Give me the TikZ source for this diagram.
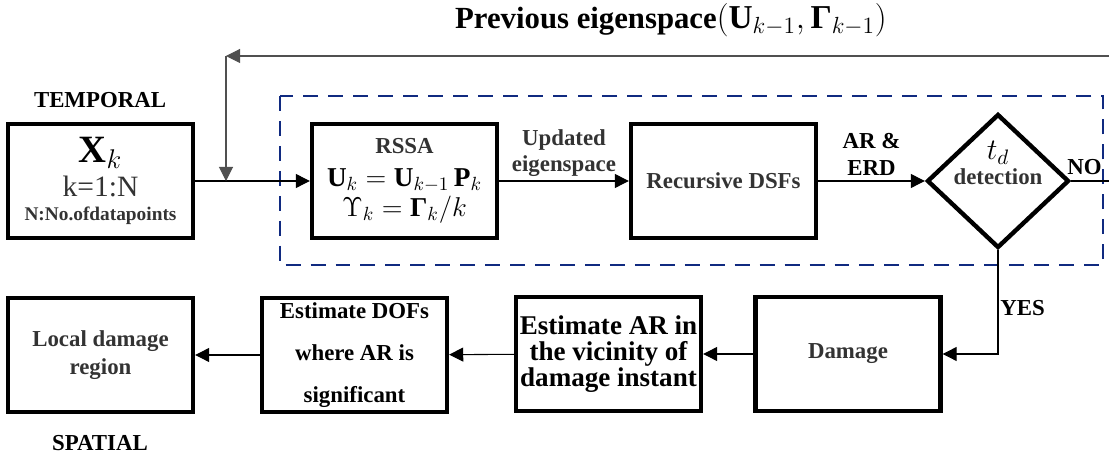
\RequirePackage{fix-cm}
\documentclass[tikz,border=0pt]{standalone}
\usepackage[no-math]{fontspec}
\setmainfont{Liberation Serif}
\usetikzlibrary{arrows.meta,shapes.geometric}
\definecolor{txtgray}{RGB}{51,51,51}
\definecolor{loopblue}{RGB}{16,42,128}
\definecolor{fbgray}{RGB}{80,80,80}
\newcommand{\bfm}[1]{\mbox{\bfseries #1}}

\begin{document}
\begin{tikzpicture}[x=0.02cm, y=-0.02cm,
    >={Triangle[length=8pt,width=8pt]},
    blk/.style={draw, line width=2.5pt, minimum width=3.7cm, minimum height=2.28cm,
      inner sep=0pt, align=center, font=\fontsize{13}{15}\selectfont\bfseries},
    dec/.style={draw, diamond, line width=2.5pt, minimum width=2.84cm,
      minimum height=2.68cm, inner sep=0pt},
    lbl/.style={align=center, inner sep=1pt, font=\fontsize{13}{15}\selectfont\bfseries},
    edge/.style={->, line width=0.6pt},
    fback/.style={->, line width=0.6pt, draw=fbgray}]
  \useasboundingbox (0,0) rectangle (1109,455);

  \draw[loopblue, line width=1.2pt, dash pattern=on 8.5pt off 5.7pt]
    (280,96) rectangle (1103,265);

  \node[lbl, font=\fontsize{17.5}{20}\selectfont\bfseries] (prev) at (671,20)
    {Previous eigenspace{\fontsize{19}{20}\selectfont$\big(\bfm{U}_{k-1},\bfm{Γ}_{k-1}\big)$}};
  \node[lbl] (temporal) at (100,100) {TEMPORAL};
  \node[lbl] (spatial) at (100,443) {SPATIAL};

  \node[blk, font=\fontsize{13}{17}\selectfont\bfseries] (xk) at (100.5,181)
    {{\fontsize{22}{20}\selectfont$\bfm{X}_k$}\\[2pt]
    {\fontsize{16.8}{17}\selectfont\mdseries\color{txtgray}k=1:N}\\[-3.3pt]
    {\fontsize{11}{12}\selectfont\color{txtgray}N:No.ofdatapoints}};
  \node[blk, font=\fontsize{13}{18.5}\selectfont\bfseries] (rssa) at (404.5,181)
    {{\color{txtgray}RSSA}\\
    {\fontsize{15.5}{16}\selectfont$\bfm{U}_k=\bfm{U}_{k-1}\,\bfm{P}_k$}\\[-1.5pt]
    {\fontsize{15.5}{16}\selectfont$\Upsilon_k=\bfm{Γ}_k/k$}};
  \node[blk, text=txtgray] (dsf) at (723.5,181) {Recursive DSFs};
  \node[dec] (det) at (998,181) {};
  \node[lbl, text=txtgray] (dettxt) at (998,163)
    {{\fontsize{17}{17}\selectfont\color{black}$t_d$}\\[-1pt]detection};

  \node[blk, text=txtgray] (damage) at (848,354) {Damage};
  \node[blk, font=\fontsize{15.4}{14.8}\selectfont\bfseries] (estar) at (608.5,354)
    {Estimate AR in\\the vicinity of\\damage instant};
  \node[blk, font=\fontsize{13}{24}\selectfont\bfseries] (estdof) at (354.5,355)
    {Estimate DOFs\\where AR is\\significant};
  \node[blk, text=txtgray, font=\fontsize{13}{16}\selectfont\bfseries] (local) at (100.5,355)
    {Local damage\\region};

  \coordinate (join) at (226,181);
  \coordinate (tl) at (226,56);
  \coordinate (tr) at (1109,56);
  \coordinate (nr) at (1109,181);

  \draw[edge] (xk) -- (rssa);
  \draw[edge] (rssa) -- (dsf) node[lbl, midway, above=1pt, text=txtgray] {Updated\\eigenspace};
  \draw[edge] (dsf) -- (det) node[lbl, midway, above=2pt] {AR \&\\ERD};
  \draw[line width=0.6pt] (det.east) -- (nr) node[lbl, pos=0.35, above=2pt] {NO};
  \draw[fback] (tr) -- (tl);
  \draw[fback] (tl) -- (join);
  \draw[edge] (det.south) |- (damage) node[lbl, pos=0.28, right=0pt] {YES};
  \draw[edge] (damage) -- (estar);
  \draw[edge] (estar) -- (estdof);
  \draw[edge] (estdof) -- (local);
\end{tikzpicture}
\end{document}
